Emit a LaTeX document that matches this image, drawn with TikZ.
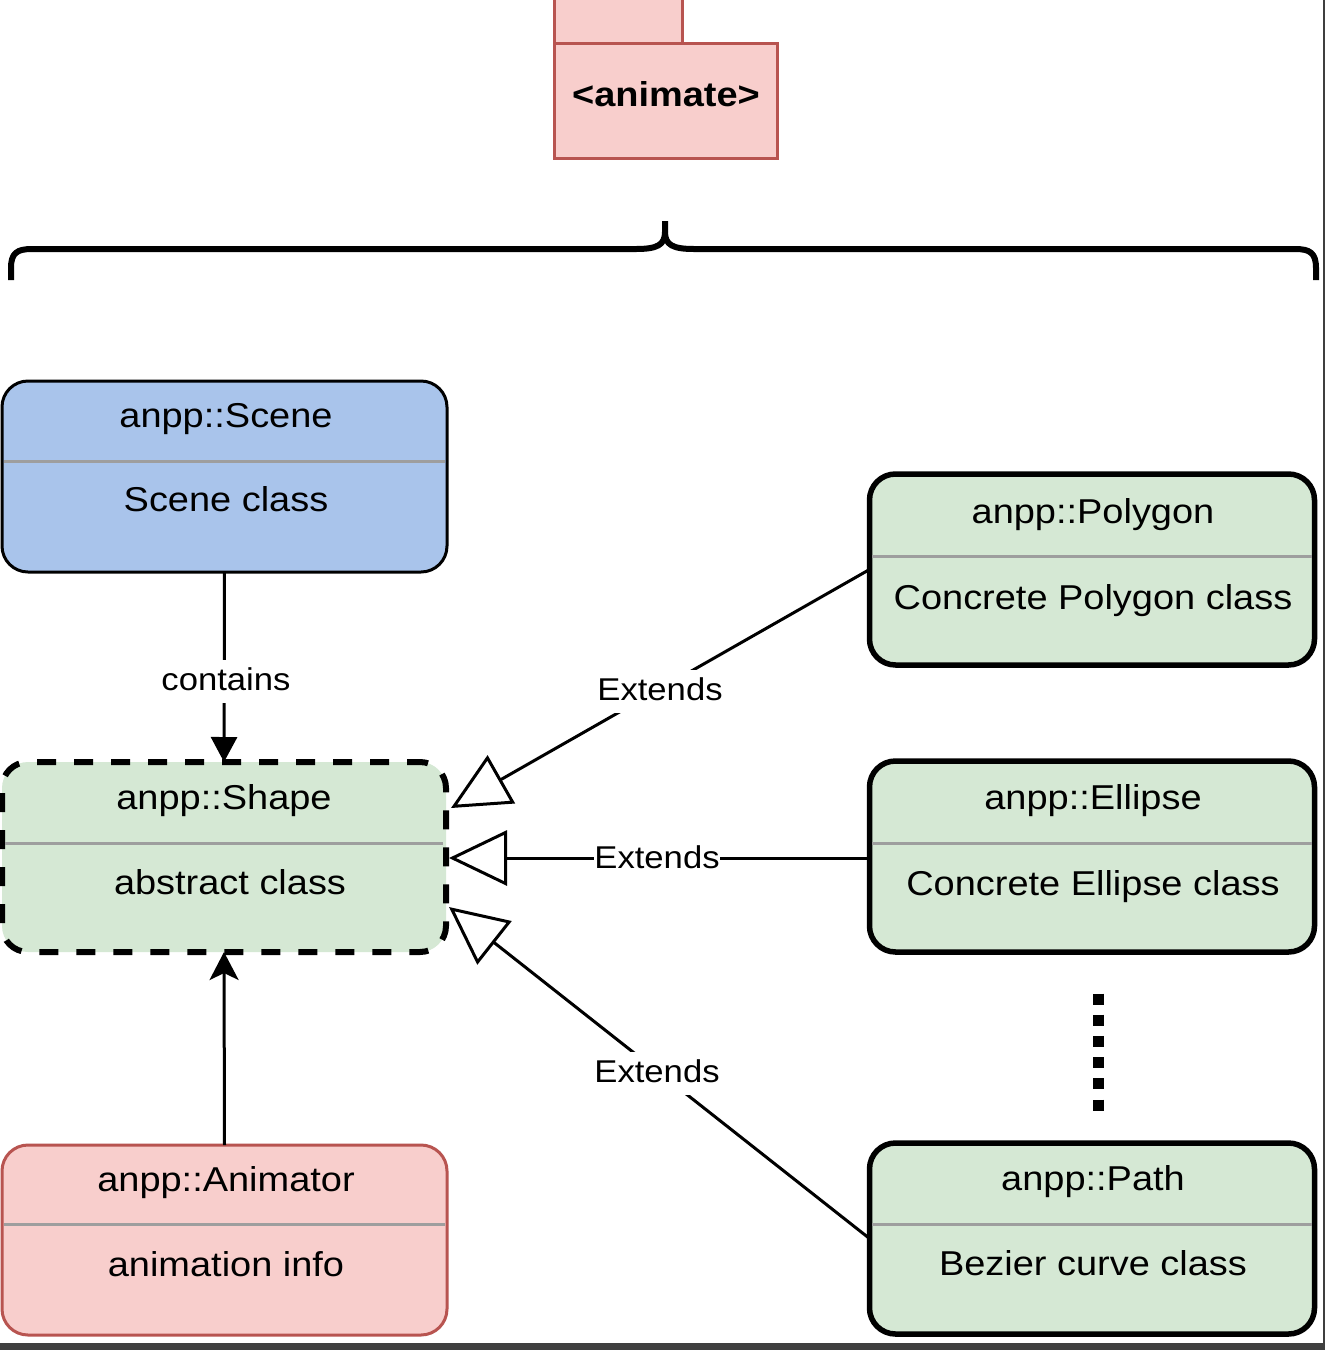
\documentclass[tikz,border=0pt]{standalone}
\usepackage{fontspec}
\setmainfont{Liberation Sans}[FakeStretch=1.1]
\usetikzlibrary{arrows.meta}
\definecolor{bluefill}{HTML}{A9C4EB}
\definecolor{greenfill}{HTML}{D5E8D4}
\definecolor{redfill}{HTML}{F8CECC}
\definecolor{redline}{HTML}{B85450}
\definecolor{sepgray}{HTML}{9E9E9E}
\definecolor{frame}{HTML}{3F3F3F}
\tikzset{
  cbox/.style={rectangle, rounded corners=26pt, inner sep=0pt, outer sep=0pt, minimum width=445pt, minimum height=191pt},
  solidbox/.style={cbox, draw=black, line width=5.5pt, fill=greenfill},
  sepline/.style={draw=sepgray, line width=3pt},
  ttl/.style={anchor=base, inner sep=0pt, font=\fontsize{34.5}{40}\selectfont},
  lbl/.style={anchor=base, fill=white, inner xsep=2pt, inner ysep=5pt, text height=25pt, text depth=8pt, font=\fontsize{31.5}{38}\selectfont},
  conn/.style={draw=black, line width=3pt},
  bracepath/.style={draw=black, line width=6pt},
}
\begin{document}
\begin{tikzpicture}[x=1pt, y=-1pt]
\useasboundingbox (0,0) rectangle (1325,1350);
\clip (0,0) rectangle (1325,1350);
\fill[white] (0,0) rectangle (1325,1350);

% package
\draw[fill=redfill, draw=redline, line width=3pt] (554,-10) rectangle (682,43);
\node[draw=redline, fill=redfill, line width=3pt, rectangle, inner sep=0pt, minimum width=223pt, minimum height=115pt] (pkg) at (665.5,100.5) {};
\node[anchor=base, inner sep=0pt, font=\fontsize{34.5}{40}\selectfont\bfseries] (pkgt) at (666,106) {<animate>};

% brace
\draw[bracepath] (11,280) -- (11,268) .. controls (11,253) and (17,249) .. (32,249) -- (636,249) .. controls (657,249) and (665,245) .. (665,232) -- (665,221);
\draw[bracepath] (665,232) .. controls (665,245) and (673,249) .. (694,249) -- (1295,249) .. controls (1310,249) and (1316,253) .. (1316,268) -- (1316,280);

% Scene
\node[cbox, draw=black, line width=3pt, fill=bluefill] (scene) at (224.5,476.5) {};
\draw[sepline] (4,461) -- (445,461);
\node[ttl] (scenet) at (226,427) {anpp::Scene};
\node[ttl] (sceneb) at (226,511) {Scene class};

% Shape
\node[cbox, draw=black, line width=6pt, dash pattern=on 19pt off 18pt, dash phase=6pt, fill=greenfill, minimum width=444pt, minimum height=190pt] (shape) at (224,857) {};
\draw[sepline] (5,843) -- (443,843);
\node[ttl] (shapet) at (224,809) {anpp::Shape};
\node[ttl] (shapeb) at (230,894) {abstract class};

% Animator
\node[cbox, draw=redline, line width=3pt, fill=redfill, minimum height=190pt] (anim) at (224.5,1240) {};
\draw[sepline] (4,1224) -- (445,1224);
\node[ttl] (animt) at (226,1191) {anpp::Animator};
\node[ttl] (animb) at (226,1276) {animation info};

% Polygon
\node[solidbox] (poly) at (1092,569.5) {};
\draw[sepline] (872,556) -- (1312,556);
\node[ttl] (polyt) at (1093,523) {anpp::Polygon};
\node[ttl] (polyb) at (1093,609) {Concrete Polygon class};

% Ellipse
\node[solidbox] (ell) at (1092,856.5) {};
\draw[sepline] (872,843) -- (1312,843);
\node[ttl] (ellt) at (1093,809) {anpp::Ellipse};
\node[ttl] (ellb) at (1093,895) {Concrete Ellipse class};

% Path
\node[solidbox] (pathc) at (1092,1238.5) {};
\draw[sepline] (872,1224) -- (1312,1224);
\node[ttl] (patht) at (1093,1190) {anpp::Path};
\node[ttl] (pathb) at (1093,1275) {Bezier curve class};

% dots
\coordinate (d1) at (1098,993.5);
\coordinate (d2) at (1098,1110.5);
\draw[line width=11pt, dash pattern=on 11pt off 10.2pt] (d1) -- (d2);

% connectors
\draw[conn, -{Triangle[length=25pt,width=26pt]}] (scene.south) -- (shape.north);
\node[lbl] (contl) at (226,690) {contains};

\draw[conn, -{Stealth[length=28pt,width=29pt,inset=7pt]}] (anim.north) -- (shape.south);

\coordinate (e1) at (451,808);
\coordinate (e2) at (449,858);
\coordinate (e3) at (449,907);
\draw[conn, -{Triangle[open,length=58pt,width=55pt]}] (poly.west) -- (e1);
\draw[conn, -{Triangle[open,length=58pt,width=55pt]}] (ell.west |- e2) -- (e2);
\draw[conn, -{Triangle[open,length=58pt,width=55pt]}] (pathc.west) -- (e3);
\node[lbl] (ext1) at (660,700) {Extends};
\node[lbl, inner xsep=0pt] (ext2) at (657,868) {Extends};
\node[lbl] (ext3) at (657,1082) {Extends};

% frame edges
\fill[frame] (1322.5,0) rectangle (1325,1350);
\fill[frame] (0,1343) rectangle (1325,1350);
\end{tikzpicture}
\end{document}
